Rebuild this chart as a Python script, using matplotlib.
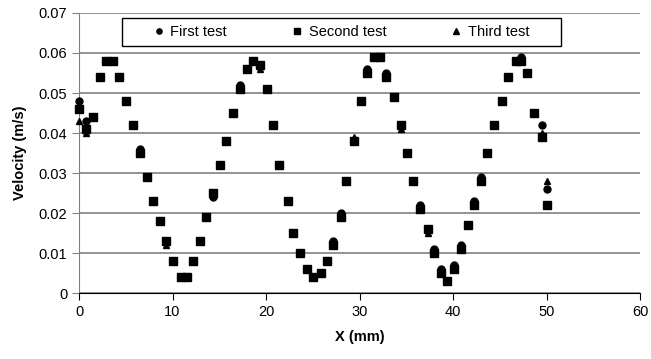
import matplotlib
matplotlib.use('Agg')
import matplotlib.pyplot as plt
from matplotlib.patches import Rectangle

plt.rcParams['font.family'] = ['Liberation Sans', 'DejaVu Sans']

# positions along X (mm)
x = [0, 0.7, 1.46, 2.25, 2.9, 3.6, 4.28, 5.03, 5.74, 6.52,
     7.24, 7.95, 8.66, 9.3, 10.09, 10.87, 11.58, 12.16, 12.94, 13.58,
     14.36, 15.08, 15.72, 16.43, 17.2, 17.93, 18.64, 19.35, 20.07, 20.7,
     21.43, 22.3, 22.9, 23.63, 24.35, 25.0, 25.85, 26.5, 27.2, 27.99,
     28.6, 29.4, 30.16, 30.77, 31.55, 32.2, 32.8, 33.7, 34.4, 35.05,
     35.75, 36.47, 37.28, 37.97, 38.68, 39.4, 40.05, 40.8, 41.6, 42.2,
     42.96, 43.66, 44.4, 45.2, 45.9, 46.74, 47.24, 47.95, 48.7, 49.5,
     50.1]

second = [0.046, 0.041, 0.044, 0.054, 0.058, 0.058, 0.054, 0.048, 0.042, 0.035,
          0.029, 0.023, 0.018, 0.013, 0.008, 0.004, 0.004, 0.008, 0.013, 0.019,
          0.025, 0.032, 0.038, 0.045, 0.051, 0.056, 0.058, 0.057, 0.051, 0.042,
          0.032, 0.023, 0.015, 0.010, 0.006, 0.004, 0.005, 0.008, 0.012, 0.019,
          0.028, 0.038, 0.048, 0.055, 0.059, 0.059, 0.054, 0.049, 0.042, 0.035,
          0.028, 0.021, 0.016, 0.010, 0.005, 0.003, 0.006, 0.011, 0.017, 0.022,
          0.028, 0.035, 0.042, 0.048, 0.054, 0.058, 0.058, 0.055, 0.045, 0.039,
          0.022]

first = [0.048, 0.043, 0.044, 0.054, 0.058, 0.058, 0.054, 0.048, 0.042, 0.036,
         0.029, 0.023, 0.018, 0.013, 0.008, 0.004, 0.004, 0.008, 0.013, 0.019,
         0.024, 0.032, 0.038, 0.045, 0.052, 0.056, 0.058, 0.057, 0.051, 0.042,
         0.032, 0.023, 0.015, 0.010, 0.006, 0.004, 0.005, 0.008, 0.013, 0.020,
         0.028, 0.038, 0.048, 0.056, 0.059, 0.059, 0.055, 0.049, 0.042, 0.035,
         0.028, 0.022, 0.016, 0.011, 0.006, 0.003, 0.007, 0.012, 0.017, 0.023,
         0.029, 0.035, 0.042, 0.048, 0.054, 0.058, 0.059, 0.055, 0.045, 0.042,
         0.026]

third = [0.043, 0.040, 0.044, 0.054, 0.058, 0.058, 0.054, 0.048, 0.042, 0.035,
         0.029, 0.023, 0.018, 0.012, 0.008, 0.004, 0.004, 0.008, 0.013, 0.019,
         0.025, 0.032, 0.038, 0.045, 0.051, 0.056, 0.058, 0.056, 0.051, 0.042,
         0.032, 0.023, 0.015, 0.010, 0.006, 0.004, 0.005, 0.008, 0.012, 0.019,
         0.028, 0.039, 0.048, 0.055, 0.059, 0.059, 0.054, 0.049, 0.041, 0.035,
         0.028, 0.021, 0.015, 0.010, 0.005, 0.003, 0.006, 0.011, 0.017, 0.022,
         0.028, 0.035, 0.042, 0.048, 0.054, 0.058, 0.058, 0.055, 0.045, 0.040,
         0.028]

fig = plt.figure(figsize=(6.51, 3.59), dpi=100)
ax = fig.add_axes([0.1214, 0.1838, 0.8618, 0.78])

ax.plot(x, first, 'o', color='black', markersize=5, label='First test', zorder=3, clip_on=False)
ax.plot(x, second, 's', color='black', markersize=5.5, label='Second test', zorder=3, clip_on=False)
ax.plot(x, third, '^', color='black', markersize=5, label='Third test', zorder=3, clip_on=False)

ax.set_xlim(0, 60)
ax.set_ylim(0, 0.07)
ax.set_xticks(range(0, 61, 10))
ax.set_yticks([0, 0.01, 0.02, 0.03, 0.04, 0.05, 0.06, 0.07])
ax.set_yticklabels(['0', '0.01', '0.02', '0.03', '0.04', '0.05', '0.06', '0.07'])
ax.yaxis.grid(True, color='#808080', linewidth=1.2)
ax.set_axisbelow(True)

ax.spines['top'].set_visible(False)
ax.spines['right'].set_visible(False)
ax.spines['left'].set_color('#808080')
ax.spines['bottom'].set_color('black')
ax.tick_params(axis='both', labelsize=10.5, length=5, direction='out')
ax.tick_params(axis='y', color='#808080')

ax.set_xlabel('X (mm)', fontsize=10.5, fontweight='bold', labelpad=8)
ax.set_ylabel('Velocity (m/s)', fontsize=10.5, fontweight='bold', labelpad=8)

# legend box drawn separately so the entries sit centred inside a wide frame
box = Rectangle((0.0766, 0.882), 0.7825, 0.1, transform=ax.transAxes,
                facecolor='white', edgecolor='black', linewidth=1, zorder=4)
ax.add_patch(box)
leg = ax.legend(ncol=3, loc='center', bbox_to_anchor=(0.466, 0.932),
                frameon=False, fontsize=10.5, handletextpad=0.3,
                handlelength=1.0, columnspacing=4.3, markerscale=0.75,
                borderaxespad=0)
leg.set_zorder(5)

fig.savefig('out.png', dpi=100)
